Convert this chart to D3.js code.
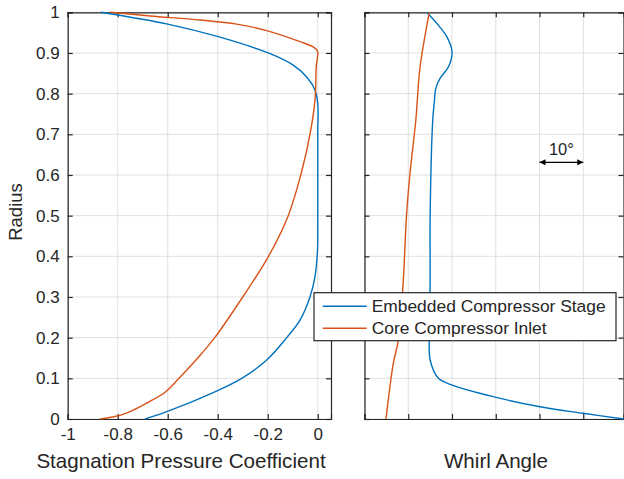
<!DOCTYPE html>
<html>
<head>
<meta charset="utf-8">
<script src="https://cdn.jsdelivr.net/npm/d3@7"></script>
<style>
  body { margin: 0; background: #fff; }
  svg text { font-family: "Liberation Sans", Arial, sans-serif; fill: #262626; }
</style>
</head>
<body>
<div id="chart"></div>
<script>
// series names
var seriesNames = ["Embedded Compressor Stage", "Core Compressor Inlet"];
var seriesColors = ["#0072BD", "#D95319"];

// left panel: [radius, stagnation pressure coefficient]
var cpEmbedded = [[0, -0.691], [0.018, -0.604], [0.065, -0.418], [0.10, -0.304], [0.145, -0.204],
	[0.20, -0.124], [0.243, -0.071], [0.30, -0.031], [0.35, -0.011], [0.416, -0.001], [0.5, 0],
	[0.6, 0], [0.7, 0], [0.776, 0], [0.809, -0.011], [0.838, -0.04], [0.87, -0.098], [0.90, -0.198],
	[0.94, -0.398], [0.971, -0.6], [1.0, -0.867]];
var cpCore = [[0, -0.871], [0.008, -0.798], [0.022, -0.738], [0.039, -0.684], [0.067, -0.608],
	[0.1, -0.555], [0.15, -0.48], [0.20, -0.412], [0.30, -0.300], [0.40, -0.197], [0.5, -0.118],
	[0.6, -0.068], [0.7, -0.031], [0.784, -0.011], [0.866, -0.006], [0.905, -0.001],
	[0.915, -0.018], [0.928, -0.071], [0.955, -0.204], [0.971, -0.324], [0.981, -0.47], [0.991, -0.67],
	[1.0, -0.83]];

// right panel: [radius, whirl angle (deg, arbitrary origin)]
var whirlEmbedded = [[0, 59.2], [0.014, 50.0], [0.030, 40.1], [0.055, 29.4], [0.084, 19.9],
	[0.10, 16.9], [0.145, 15.0], [0.194, 14.8], [0.342, 15.0], [0.493, 15.0], [0.735, 15.6],
	[0.784, 16.0], [0.813, 16.3], [0.838, 17.3], [0.866, 19.2], [0.903, 20.0], [0.94, 18.8],
	[0.973, 16.5], [1.0, 14.2]];
var whirlCore = [[0, 4.91], [0.137, 6.58], [0.194, 7.73], [0.342, 8.87], [0.5, 9.6], [0.604, 10.4],
	[0.739, 11.77], [0.784, 12.07], [0.866, 12.7], [1.0, 14.8]];

// ticks
var radiusTicks = [0, 0.1, 0.2, 0.3, 0.4, 0.5, 0.6, 0.7, 0.8, 0.9, 1];
var cpTicks = [-1, -0.8, -0.6, -0.4, -0.2, 0];
var whirlTicks = [0, 10, 20, 30, 40, 50];
var arrowSpan = [40, 50]; // the "10°" scale marker
var arrowRadius = 0.631;

var width = 624;
var height = 479;
var plotTop = 12.3, plotBottom = 419;
var tickLen = 5;
var axisColor = "#262626";
var gridColor = "#e0e0e0";

var svg = d3.select("#chart")
	.append("svg")
	.attr("width", width)
	.attr("height", height);

var yScale = d3.scaleLinear().domain([0, 1]).range([plotBottom, plotTop]);
var xLeft = d3.scaleLinear().domain([-1, 0.053]).range([67.7, 331]);
var xRight = d3.scaleLinear().domain([0, 59.2]).range([364.5, 623.5]);

// plain hyphen for negative numbers, like the original
function tickFmt(d)
{
	return String(d);
}

function drawPanel(xScale, xTicks, showLabels)
{
	var g = svg.append("g");
	var x0 = xScale.range()[0], x1 = xScale.range()[1];

	// grid
	g.selectAll(".vgrid").data(xTicks).enter().append("line")
		.attr("x1", function(d){ return xScale(d); })
		.attr("x2", function(d){ return xScale(d); })
		.attr("y1", plotTop).attr("y2", plotBottom)
		.attr("stroke", gridColor).attr("stroke-width", 1);
	g.selectAll(".hgrid").data(radiusTicks).enter().append("line")
		.attr("x1", x0).attr("x2", x1)
		.attr("y1", function(d){ return yScale(d); })
		.attr("y2", function(d){ return yScale(d); })
		.attr("stroke", gridColor).attr("stroke-width", 1);

	// axes, ticks pointing inward
	var bottomAxis = d3.axisBottom(xScale).tickValues(xTicks).tickSize(-tickLen).tickPadding(9)
		.tickFormat(showLabels ? tickFmt : "");
	var topAxis = d3.axisTop(xScale).tickValues(xTicks).tickSize(-tickLen).tickFormat("");
	var leftAxis = d3.axisLeft(yScale).tickValues(radiusTicks).tickSize(-tickLen).tickPadding(8)
		.tickFormat(showLabels ? tickFmt : "");
	var rightAxis = d3.axisRight(yScale).tickValues(radiusTicks).tickSize(-tickLen).tickFormat("");

	g.append("g").attr("transform", "translate(0," + plotBottom + ")").call(bottomAxis);
	g.append("g").attr("transform", "translate(0," + plotTop + ")").call(topAxis);
	g.append("g").attr("transform", "translate(" + x0 + ",0)").call(leftAxis);
	g.append("g").attr("transform", "translate(" + x1 + ",0)").call(rightAxis);

	g.selectAll(".domain").attr("stroke", axisColor).attr("stroke-width", 1.2);
	g.selectAll(".tick line").attr("stroke", axisColor).attr("stroke-width", 1.2);
	g.selectAll(".tick text").attr("fill", axisColor).style("font-size", "17px")
		.style("font-family", "'Liberation Sans', Arial, sans-serif");
	return g;
}

drawPanel(xLeft, cpTicks, true);
drawPanel(xRight, whirlTicks, false);

function drawCurve(data, xScale, color)
{
	var line = d3.line()
		.x(function(d){ return xScale(d[1]); })
		.y(function(d){ return yScale(d[0]); })
		.curve(d3.curveCatmullRom.alpha(0.5));
	svg.append("path")
		.datum(data)
		.attr("d", line)
		.attr("fill", "none")
		.attr("stroke", color)
		.attr("stroke-width", 1.4);
}

drawCurve(cpEmbedded, xLeft, seriesColors[0]);
drawCurve(cpCore, xLeft, seriesColors[1]);
drawCurve(whirlEmbedded, xRight, seriesColors[0]);
drawCurve(whirlCore, xRight, seriesColors[1]);

// axis labels
svg.append("text")
	.attr("x", 181).attr("y", 467.5)
	.attr("text-anchor", "middle")
	.style("font-size", "20.6px")
	.text("Stagnation Pressure Coefficient");
svg.append("text")
	.attr("x", 496).attr("y", 467.5)
	.attr("text-anchor", "middle")
	.style("font-size", "20.6px")
	.text("Whirl Angle");
svg.append("text")
	.attr("transform", "translate(22," + 212 + ") rotate(-90)")
	.attr("text-anchor", "middle")
	.style("font-size", "18.5px")
	.text("Radius");

// 10 degree marker
var defs = svg.append("defs");
defs.append("marker")
	.attr("id", "arrowhead")
	.attr("viewBox", "0 0 10 10")
	.attr("refX", 10).attr("refY", 5)
	.attr("markerWidth", 10).attr("markerHeight", 6)
	.attr("markerUnits", "userSpaceOnUse")
	.attr("orient", "auto-start-reverse")
	.append("path")
	.attr("d", "M0,0 L10,5 L0,10 Z")
	.attr("fill", "#000");
svg.append("line")
	.attr("x1", xRight(arrowSpan[0])).attr("x2", xRight(arrowSpan[1]))
	.attr("y1", yScale(arrowRadius)).attr("y2", yScale(arrowRadius))
	.attr("stroke", "#000").attr("stroke-width", 1.4)
	.attr("marker-start", "url(#arrowhead)")
	.attr("marker-end", "url(#arrowhead)");
svg.append("text")
	.attr("x", xRight((arrowSpan[0] + arrowSpan[1]) / 2)).attr("y", 155)
	.attr("text-anchor", "middle")
	.style("font-size", "16.5px")
	.attr("fill", "#000")
	.text("10°");

// legend
var legend = svg.append("g").attr("transform", "translate(314,292.7)");
legend.append("rect")
	.attr("width", 302).attr("height", 48)
	.attr("fill", "#fff")
	.attr("stroke", axisColor).attr("stroke-width", 1.2);
seriesNames.forEach(function(name, i){
	var cy = 13.5 + i * 22;
	legend.append("line")
		.attr("x1", 8.7).attr("x2", 52.7)
		.attr("y1", cy).attr("y2", cy)
		.attr("stroke", seriesColors[i]).attr("stroke-width", 1.4);
	legend.append("text")
		.attr("x", 57.7).attr("y", cy)
		.attr("dy", "0.36em")
		.style("font-size", "17.4px")
		.attr("fill", "#000")
		.text(name);
});
</script>
</body>
</html>
